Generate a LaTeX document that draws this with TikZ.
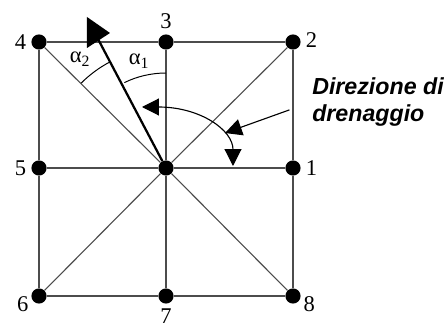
\documentclass[tikz,border=0pt]{standalone}
\usepackage{fontspec}
\setmainfont{Liberation Serif}
\newfontfamily\dirfont{Liberation Sans}
\usetikzlibrary{arrows.meta,positioning}

\tikzset{
  dot/.style={circle, fill=black, inner sep=0pt, minimum size=0.38cm},
  gridline/.style={line width=0.8pt, color=black!70},
  drainline/.style={line width=1.6pt, color=black},
  anglearc/.style={line width=0.7pt},
  bigtip/.tip={Triangle[length=0.42cm,width=0.42cm]},
  flowarrow/.style={line width=0.8pt, -bigtip},
  numfont/.style={font=\fontsize{16}{19}\selectfont},
}

\begin{document}
\begin{tikzpicture}[on grid, every label/.style={numfont}]
  \useasboundingbox (0,0) rectangle (11.1,8.275);

  % Celle
  \node[dot] (c) at (4.15,4.075) {};
  \node[dot, right=3.175cm of c, label=right:1] (n1) {};
  \node[dot, above=3.15cm of n1, label={[yshift=0.05cm]right:2}] (n2) {};
  \node[dot, above=3.15cm of c, label=above:3] (n3) {};
  \node[dot, left=3.175cm of n3, label=left:4] (n4) {};
  \node[dot, left=3.175cm of c, label=left:5] (n5) {};
  \node[dot, below=3.2cm of n5, label={[yshift=0.25cm]below left:6}] (n6) {};
  \node[dot, below=3.2cm of c, label=below:7] (n7) {};
  \node[dot, below=3.2cm of n1, label={[yshift=0.25cm]below right:8}] (n8) {};

  \draw[gridline] (n4) -- (n3) -- (n2) -- (n1) -- (n8) -- (n7) -- (n6) -- (n5) -- (n4);
  \foreach \i in {1,...,8} {
    \draw[gridline] (c) -- (n\i);
  }

  % Direzione
  \coordinate (tip) at (2.45,7.3);
  \draw[drainline] (c) -- (tip);
  \fill (tip) ++(-0.275,0.55) -- ++(0.575,-0.4) -- ++(-0.575,-0.375) -- cycle;

  \draw[anglearc] (c.center) ++(117.6:3cm) arc[start angle=117.6, end angle=135, radius=3cm];
  \draw[anglearc] (c.center) ++(90:2.375cm) arc[start angle=90, end angle=116, radius=2.375cm];
  \node[numfont] (a2) at (2.0,6.8) {α\textsubscript{2}};
  \node[numfont] (a1) at (3.475,6.75) {α\textsubscript{1}};

  % Rotazione
  \coordinate (rs) at (3.55,5.6);
  \coordinate (re) at (5.825,4.125);
  \draw[flowarrow, bigtip-bigtip] (rs) .. controls (5.0,5.6) and (5.825,5.025) .. (re);

  \node[anchor=north west, align=left, inner sep=0pt,
        font=\dirfont\bfseries\itshape\fontsize{16.5}{19.5}\selectfont] (dir) at (7.8,6.35) {Direzione di\\drenaggio};
  \coordinate (dto) at (5.625,4.95);
  \draw[flowarrow, shorten <=0.6cm] (dir.west) -- (dto);
\end{tikzpicture}
\end{document}
